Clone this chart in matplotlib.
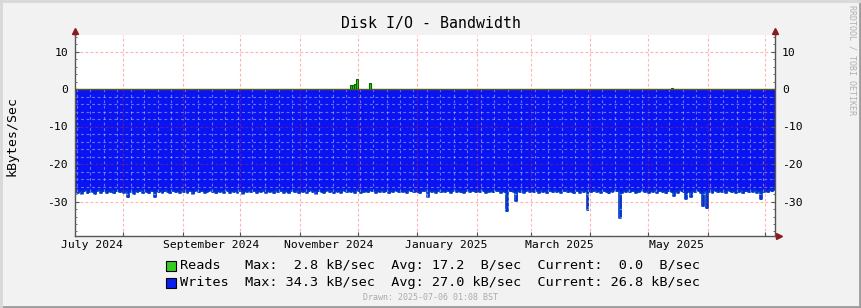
import matplotlib
matplotlib.use("Agg")
import matplotlib.pyplot as plt
import matplotlib.dates as mdates
from matplotlib.ticker import MultipleLocator, NullFormatter
from matplotlib.patches import Rectangle
import pandas as pd

# time span of the graph (one value per day)
start_day = "2024-07-07"
end_day = "2025-07-06"

# daily write rate, kB/sec (drawn below zero)
writes_kb = [
    27.2, 27.6, 27.1, 27.9, 27.3, 27.0, 27.8, 27.4, 27.1, 27.5, 27.9, 27.2, 27.0, 27.6,
    27.3, 27.1, 27.7, 27.2, 27.4, 27.0, 27.8, 27.3, 27.1, 27.5, 27.2, 27.6, 27.1, 28.9,
    27.4, 27.2, 27.9, 27.1, 27.5, 27.3, 27.0, 27.7, 27.2, 27.4, 27.8, 27.1, 27.3, 28.7,
    27.2, 27.5, 27.1, 27.6, 27.3, 27.0, 27.4, 27.8, 27.2, 27.1, 27.5, 27.3, 27.7, 27.0,
    27.4, 27.2, 27.6, 27.1, 27.3, 27.9, 27.2, 27.0, 27.5, 27.3, 27.1, 27.6, 27.4, 27.2,
    27.0, 27.5, 27.3, 27.8, 27.1, 27.4, 27.2, 27.6, 27.0, 27.3, 27.7, 27.1, 27.4, 27.2,
    27.6, 27.1, 27.3, 27.9, 27.2, 27.4, 27.0, 27.5, 27.3, 27.1, 27.7, 27.2, 27.4, 27.0,
    27.3, 27.6, 27.1, 27.4, 27.2, 27.8, 27.0, 27.5, 27.3, 27.1, 27.6, 27.2, 27.4, 27.7,
    27.1, 27.3, 27.5, 27.0, 27.8, 27.2, 27.4, 27.1, 27.6, 27.3, 27.0, 27.5, 27.2, 27.9,
    27.3, 27.1, 27.4, 27.6, 27.2, 27.0, 27.5, 27.3, 27.8, 27.1, 27.4, 27.2, 27.6, 27.0,
    27.3, 27.5, 27.1, 27.4, 27.2, 27.7, 27.0, 27.3, 27.6, 27.1, 27.4, 27.2, 27.5, 27.0,
    27.3, 27.1, 27.6, 27.2, 27.4, 27.0, 27.5, 27.3, 27.1, 27.7, 27.2, 27.4, 27.0, 27.3,
    27.5, 27.1, 27.4, 27.2, 27.6, 27.0, 27.3, 27.1, 27.5, 27.2, 27.4, 27.7, 27.1, 27.3,
    27.0, 28.7, 27.2, 27.4, 27.1, 27.6, 27.3, 27.0, 27.5, 27.2, 27.4, 27.1, 27.3, 27.6,
    27.2, 27.0, 27.4, 27.1, 27.5, 27.3, 27.6, 27.2, 27.0, 27.4, 27.1, 27.3, 27.5, 27.2,
    27.4, 27.0, 27.3, 27.6, 27.1, 27.4, 27.2, 27.5, 27.0, 27.3, 27.1, 27.6, 27.2, 27.4,
    32.6, 27.1, 27.3, 27.0, 27.5, 29.8, 27.2, 27.4, 27.1, 27.6, 27.3, 27.0, 27.4, 27.2,
    27.5, 27.1, 27.3, 27.6, 27.0, 27.4, 27.2, 27.7, 27.1, 27.3, 27.5, 27.0, 27.4, 27.2,
    27.6, 27.1, 27.3, 27.0, 27.5, 27.2, 27.4, 27.8, 27.1, 27.3, 27.6, 27.0, 27.4, 27.2,
    32.3, 27.1, 27.5, 27.3, 27.0, 27.4, 27.2, 27.6, 27.1, 27.3, 27.5, 27.8, 27.2, 27.4,
    27.0, 27.3, 27.1, 34.3, 27.6, 27.2, 27.4, 27.0, 27.5, 27.3, 27.1, 27.6, 27.2, 27.4,
    27.0, 27.3, 27.5, 27.1, 27.7, 27.2, 27.4, 27.0, 27.6, 27.3, 27.1, 27.5, 27.2, 27.8,
    27.3, 27.1, 27.4, 28.4, 27.2, 27.6, 27.0, 27.3, 27.5, 29.2, 27.1, 27.4, 28.7, 27.2,
    27.5, 27.0, 27.3, 27.6, 31.2, 27.1, 31.8, 27.4, 27.2, 27.6, 27.0, 27.3, 27.5, 27.1,
    27.4, 27.2, 27.7, 27.0, 27.3, 27.5, 27.1, 27.6, 27.2, 27.4, 27.0, 27.8, 27.3, 27.1,
    27.5, 27.2, 27.4, 27.0, 27.6, 27.3, 29.4, 27.1, 27.4, 27.2, 27.5, 27.0, 27.3, 26.8,
]

# the few days with any reads, kB/sec
read_days = ["2024-11-27", "2024-11-28", "2024-11-29", "2024-11-30", "2024-12-07", "2025-05-13"]
reads_kb = [1.1, 1.1, 1.3, 2.8, 1.6, 0.3]

# month labels (centred in the month)
label_days = ["2024-07-16", "2024-09-16", "2024-11-16", "2025-01-16", "2025-03-16", "2025-05-16"]
label_text = ["July 2024", "September 2024", "November 2024", "January 2025", "March 2025", "May 2025"]

legend_rows = [
    ("Reads   Max:  2.8 kB/sec  Avg: 17.2  B/sec  Current:  0.0  B/sec", "#33cc22"),
    ("Writes  Max: 34.3 kB/sec  Avg: 27.0 kB/sec  Current: 26.8 kB/sec", "#0a1ef0"),
]

mono = "DejaVu Sans Mono"
plt.rcParams["font.family"] = mono
plt.rcParams["axes.unicode_minus"] = False

fig = plt.figure(figsize=(8.62, 3.08), dpi=100, facecolor="#f2f2f2")
ax = fig.add_axes([75 / 862, 72 / 308, 700 / 862, 201 / 308])
ax.set_facecolor("white")

days = pd.date_range(start_day, periods=len(writes_kb) + 1, freq="D")
neg = [-v for v in writes_kb] + [-writes_kb[-1]]

# writes area (negative) with its darker outline
ax.fill_between(days, neg, 0, step="post", color="#0a14f0", lw=0, zorder=1)
ax.step(days, neg, where="post", color="#0038c8", lw=1.2, zorder=1.5)

# reads bars
ax.bar(pd.to_datetime(read_days), reads_kb, width=1, align="edge",
       color="#33cc22", edgecolor="#006600", lw=0.8, zorder=1.6)
ax.axhline(0, color="#55591c", lw=1.0, zorder=3)

ax.set_xlim(pd.Timestamp(start_day), pd.Timestamp(end_day))
ax.set_ylim(-39.2, 14.4)

ax.xaxis.set_major_locator(mdates.MonthLocator())
ax.xaxis.set_minor_locator(mdates.WeekdayLocator(byweekday=mdates.MO))
ax.xaxis.set_major_formatter(NullFormatter())
ax.yaxis.set_major_locator(MultipleLocator(10))
ax.yaxis.set_minor_locator(MultipleLocator(2))

ax.set_axisbelow(False)
ax.grid(which="minor", color="white", alpha=0.4, lw=0.8, ls=(0, (2.5, 2.5)))
ax.grid(which="major", color="#ff2020", alpha=0.35, lw=0.8, ls=(0, (2.5, 2)))

ax.tick_params(which="both", direction="in", color="#555555", labelsize=8.2,
               right=True, labelright=True, pad=5)
ax.tick_params(which="major", length=3)
ax.tick_params(which="minor", length=1.5)
ax.tick_params(axis="x", which="minor", length=0)

for s in ["left", "right", "bottom"]:
    ax.spines[s].set_color("#555555")
    ax.spines[s].set_linewidth(1.0)
ax.spines["top"].set_visible(False)

# axis arrows like rrdtool
ax.plot([0, 0], [1, 1.02], color="#555555", lw=1, transform=ax.transAxes, clip_on=False)
ax.plot([1, 1], [1, 1.02], color="#555555", lw=1, transform=ax.transAxes, clip_on=False)
ax.plot([1, 1.006], [0, 0], color="#555555", lw=1, transform=ax.transAxes, clip_on=False)
ax.plot([0], [1.02], marker="^", ms=4, color="#8b1a1a", transform=ax.transAxes, clip_on=False)
ax.plot([1], [1.02], marker="^", ms=4, color="#8b1a1a", transform=ax.transAxes, clip_on=False)
ax.plot([1.006], [0], marker=">", ms=4, color="#8b1a1a", transform=ax.transAxes, clip_on=False)

for d, t in zip(label_days, label_text):
    ax.text(pd.Timestamp(d), -0.045, t, transform=ax.get_xaxis_transform(),
            ha="center", va="center", fontsize=8.2, color="black")

ax.set_ylabel("kBytes/Sec", fontsize=9.5)
ax.yaxis.set_label_coords(-57 / 700, 0.5)

fig.text(431 / 862, 1 - 23.5 / 308, "Disk I/O - Bandwidth", ha="center", va="center",
         fontsize=10.7, color="black")

# legend
for i, (txt, col) in enumerate(legend_rows):
    yc = 1 - (266 + 16.5 * i) / 308
    fig.patches.append(Rectangle((166 / 862, yc - 5 / 308), 10 / 862, 10 / 308,
                                 transform=fig.transFigure, facecolor=col,
                                 edgecolor="black", lw=0.8))
    fig.text(180 / 862, yc, txt, ha="left", va="center", fontsize=9.7, color="black")

fig.text(431 / 862, 1 - 297 / 308, "Drawn: 2025-07-06 01:08 BST", ha="center", va="center",
         fontsize=6, color="#aaaaaa")
fig.text(852 / 862, 1 - 60 / 308, "RRDTOOL / TOBI OETIKER", rotation=270, ha="center",
         va="center", fontsize=6, color="#b0b0b0")

# frame around the canvas
fig.add_artist(plt.Line2D([0, 1], [0.003, 0.003], color="#9c9c9c", lw=2, transform=fig.transFigure))
fig.add_artist(plt.Line2D([0.998, 0.998], [0, 1], color="#9c9c9c", lw=2, transform=fig.transFigure))
fig.add_artist(plt.Line2D([0, 1], [0.998, 0.998], color="#d8d8d8", lw=2, transform=fig.transFigure))
fig.add_artist(plt.Line2D([0.001, 0.001], [0, 1], color="#d8d8d8", lw=2, transform=fig.transFigure))

fig.savefig("out.png", dpi=100, facecolor=fig.get_facecolor())
